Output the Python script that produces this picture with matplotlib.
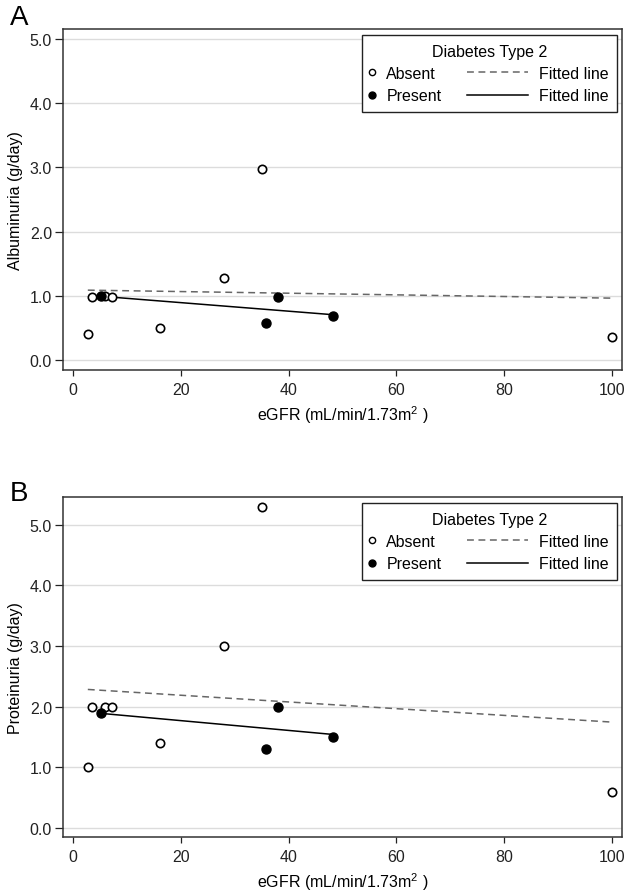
import numpy as np
import matplotlib
matplotlib.use("Agg")
import matplotlib.pyplot as plt
from matplotlib.lines import Line2D
from matplotlib.legend_handler import HandlerLine2D

plt.rcParams['font.family'] = ['Liberation Sans', 'DejaVu Sans']
plt.rcParams['mathtext.fontset'] = 'custom'
plt.rcParams['mathtext.rm'] = 'Liberation Sans'
plt.rcParams['mathtext.it'] = 'Liberation Sans:italic'

# eGFR (mL/min/1.73m2) per group
egfr_absent = [2.8, 3.5, 5.9, 7.3, 16.2, 28.0, 35.0, 100.0]
egfr_present = [5.2, 35.8, 38.0, 48.2]

# panel A: albuminuria (g/day)
albumin_absent = [0.40, 0.98, 1.00, 0.98, 0.50, 1.27, 2.98, 0.35]
albumin_present = [1.00, 0.58, 0.98, 0.69]

# panel B: proteinuria (g/day)
protein_absent = [1.0, 2.0, 2.0, 2.0, 1.4, 3.0, 5.3, 0.6]
protein_present = [1.9, 1.3, 2.0, 1.5]

x_ticks = [0, 20, 40, 60, 80, 100]
y_ticks = [0, 1, 2, 3, 4, 5]
y_ticklabels = ['0.0', '1.0', '2.0', '3.0', '4.0', '5.0']

FS = 11.5
W, H = 630, 895


class WideLine(HandlerLine2D):
    # legend line handle that reaches further left than the marker handles
    def create_artists(self, legend, orig_handle, xdescent, ydescent, width, height, fontsize, trans):
        left = 3.5 * fontsize
        right = -0.1 * fontsize
        return super().create_artists(legend, orig_handle, xdescent + left, ydescent,
                                      width + left - right, height, fontsize, trans)


def fitted(x, y):
    coef = np.polyfit(x, y, 1)
    xs = np.array([min(x), max(x)])
    return xs, np.polyval(coef, xs)


def panel(fig, rect, letter, letter_y, ylabel, ylim, y_absent, y_present):
    ax = fig.add_axes(rect)
    ax.plot(egfr_absent, y_absent, 'o', ms=6, mfc='white', mec='black', mew=1.2, zorder=3)
    ax.plot(egfr_present, y_present, 'o', ms=6.5, mfc='black', mec='black', mew=1.0, zorder=4)

    xs, ys = fitted(egfr_absent, y_absent)
    ax.plot(xs, ys, color='#666666', lw=1.1, ls=(0, (4.5, 3)), zorder=2)
    xs, ys = fitted(egfr_present, y_present)
    ax.plot(xs, ys, color='black', lw=1.1, zorder=2)

    ax.set_xlim(-1.8, 101.8)
    ax.set_ylim(*ylim)
    ax.set_xticks(x_ticks)
    ax.set_yticks(y_ticks)
    ax.set_yticklabels(y_ticklabels)
    ax.tick_params(axis='both', labelsize=FS, colors='#222222', width=0.9)
    ax.tick_params(axis='x', length=4, pad=5)
    ax.tick_params(axis='y', length=6, pad=2)
    ax.yaxis.grid(True, color='#dcdcdc', lw=1.0)
    ax.set_axisbelow(True)
    for s in ax.spines.values():
        s.set_color('#333333')
        s.set_linewidth(1.1)

    ax.set_xlabel('eGFR (mL/min/1.73m$^{2}$ )', fontsize=FS, labelpad=4)
    ax.set_ylabel(ylabel, fontsize=FS, labelpad=5)

    h_abs = Line2D([], [], marker='o', ls='none', ms=4.5, mfc='white', mec='black', mew=1.0, label='Absent')
    h_pre = Line2D([], [], marker='o', ls='none', ms=5, mfc='black', mec='black', label='Present')
    h_dash = Line2D([], [], color='#666666', lw=1.1, ls=(0, (4.5, 3)), label='Fitted line')
    h_solid = Line2D([], [], color='black', lw=1.1, label='Fitted line')
    leg = ax.legend(handles=[h_abs, h_pre, h_dash, h_solid], ncol=2,
                    title='Diabetes Type 2', title_fontsize=FS, fontsize=FS,
                    loc='upper right', bbox_to_anchor=(1 - 5 / 559, 1 - 6 / 341),
                    borderaxespad=0, borderpad=0.55, handlelength=0.2, handletextpad=0.78,
                    columnspacing=5.1, labelspacing=0.45,
                    fancybox=False, framealpha=1, edgecolor='#222222',
                    handler_map={h_dash: WideLine(), h_solid: WideLine()})
    leg.get_frame().set_linewidth(1.0)

    fig.text(10 / W, letter_y, letter, fontsize=20, va='baseline', ha='left')
    return ax


fig = plt.figure(figsize=(6.3, 8.95), dpi=100)

panel(fig, [63 / W, 1 - 371 / H, 559 / W, 341 / H], 'A', 1 - 25 / H,
      'Albuminuria (g/day)', (-0.16, 5.16), albumin_absent, albumin_present)
panel(fig, [63 / W, 1 - 838 / H, 559 / W, 340 / H], 'B', 1 - 501 / H,
      'Proteinuria (g/day)', (-0.15, 5.46), protein_absent, protein_present)

fig.savefig('out.png', dpi=100, facecolor='white')
